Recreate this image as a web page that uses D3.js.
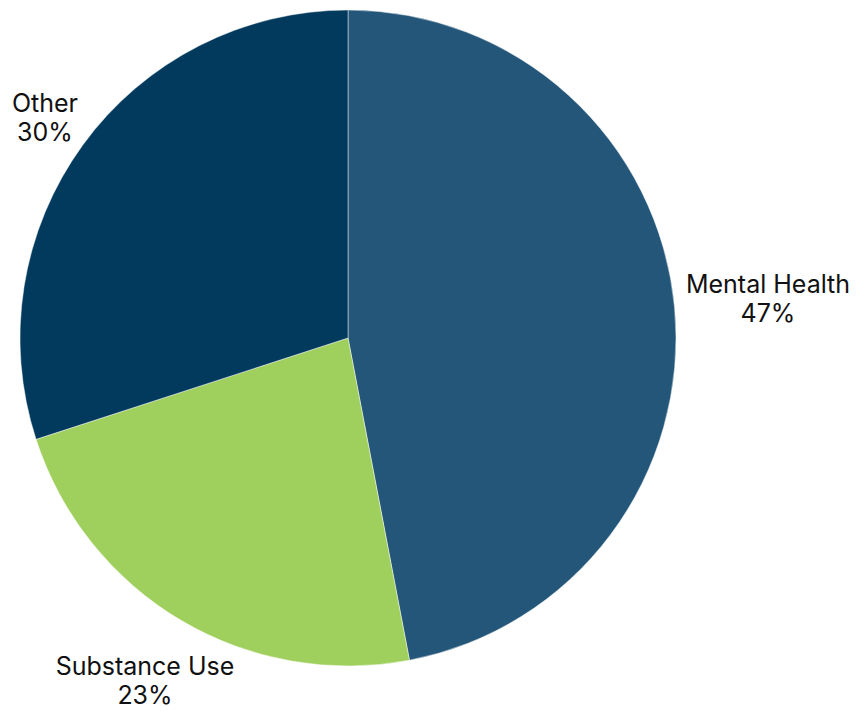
<!DOCTYPE html>
<html><head><meta charset="utf-8">
<script src="https://cdn.jsdelivr.net/npm/d3@7"></script>
<style>body{margin:0;background:#fff}svg{display:block}</style>
</head><body>
<script>
const categories = ["Mental Health", "Substance Use", "Other"];
const values = [47, 23, 30];
const colors = ["#245679", "#9fcf5d", "#023a5e"];

const W = 858, H = 711;
const cx = 348, cy = 338, R = 328;
const svg = d3.select("body").append("svg").attr("width", W).attr("height", H);
const data = categories.map((c, i) => ({name: c, value: values[i], color: colors[i]}));
const pie = d3.pie().value(d => d.value).sort(null);
const arc = d3.arc().innerRadius(0).outerRadius(R);
const g = svg.append("g").attr("transform", `translate(${cx},${cy})`);
const arcs = pie(data);
g.selectAll("path").data(arcs).join("path")
  .attr("d", arc).attr("fill", d => d.data.color)
  .attr("stroke", "rgba(255,255,255,0.45)").attr("stroke-width", 1);

// label positions (outside)
const labelPos = [[768, 293], [145, 675], [45, 112]];
const lab = svg.append("g").attr("font-family", "Inter, 'Open Sans', sans-serif").attr("font-size", 25).attr("fill", "#111").attr("text-anchor", "middle");
arcs.forEach((a, i) => {
  const t = lab.append("text").attr("x", labelPos[i][0]).attr("y", labelPos[i][1]);
  t.append("tspan").attr("x", labelPos[i][0]).attr("dy", 0).text(a.data.name);
  t.append("tspan").attr("x", labelPos[i][0]).attr("dy", 29).text(a.data.value + "%");
});
</script>
</body></html>
